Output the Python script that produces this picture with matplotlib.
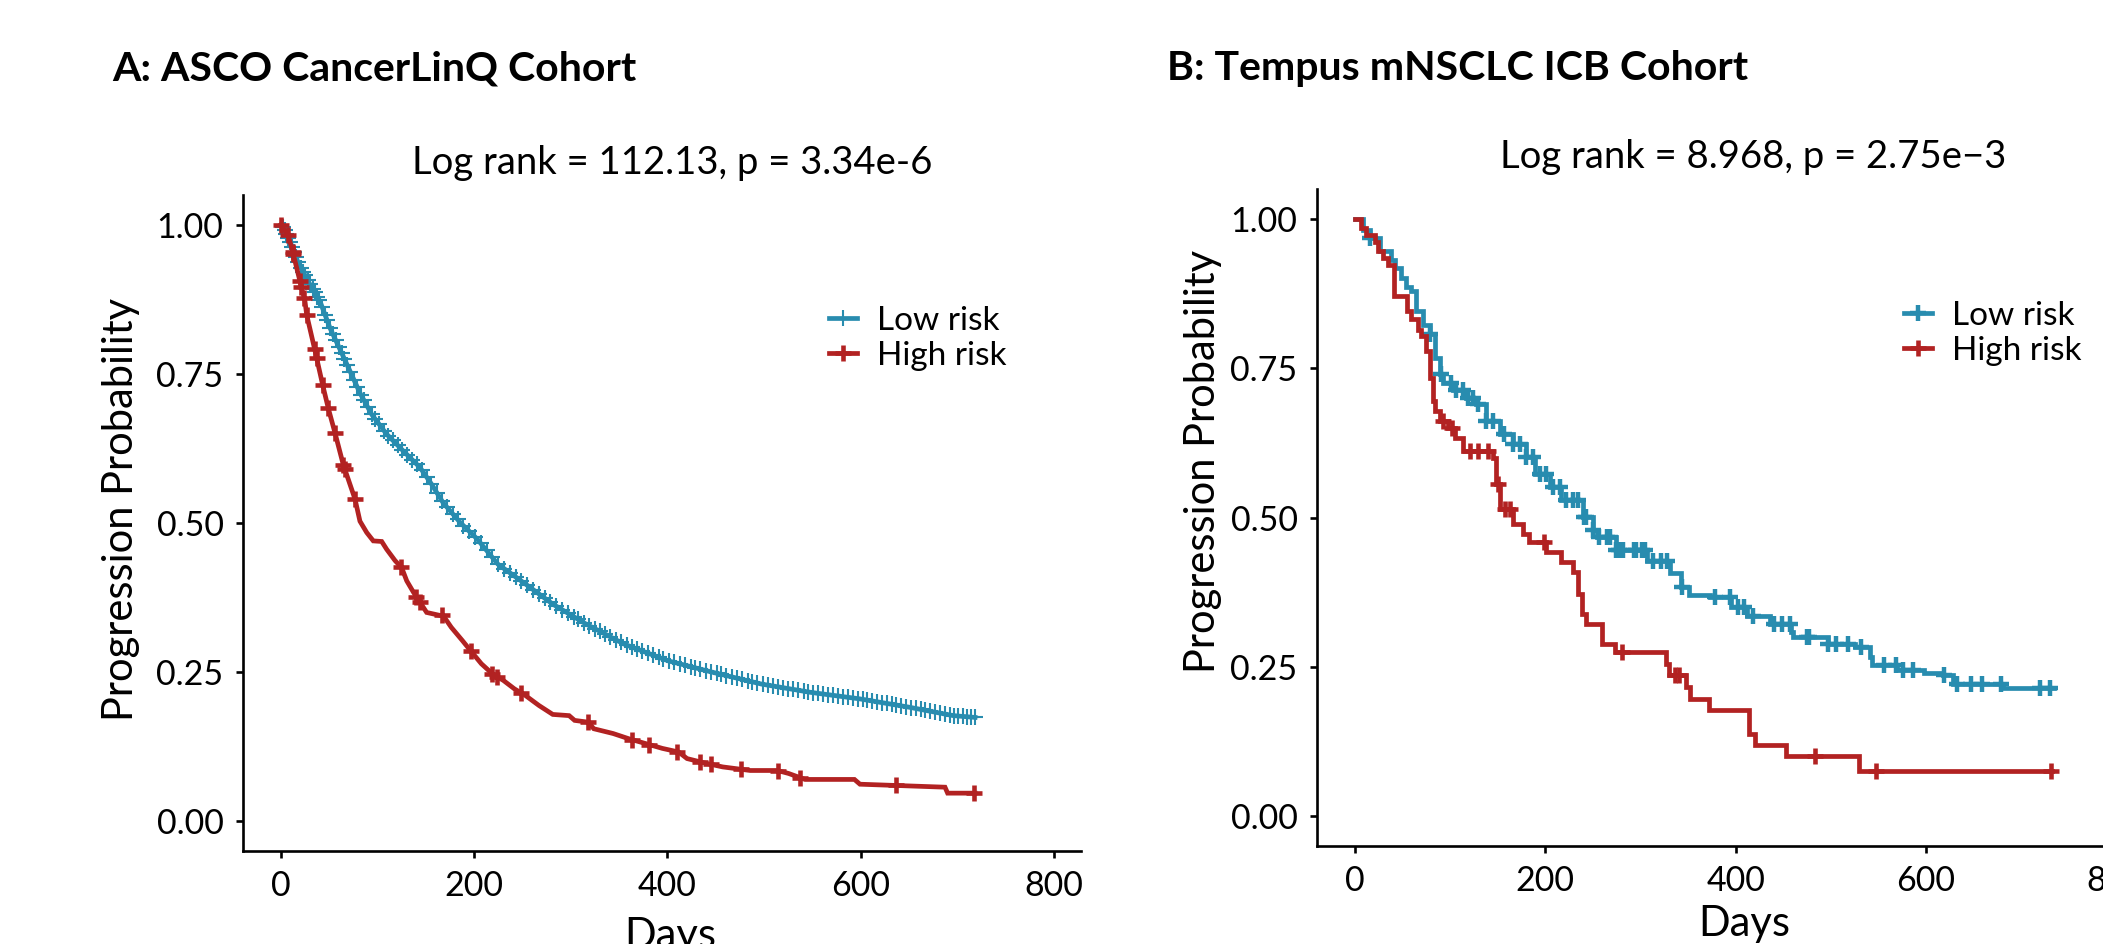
import numpy as np
import matplotlib.pyplot as plt

plt.rcParams['font.family'] = ['Lato', 'DejaVu Sans']

BLUE = '#288caf'
RED = '#b22222'

# ---- Panel A: ASCO CancerLinQ cohort ----
a_low_days = [0, 2.8, 9.7, 18.2, 30.3, 40.6, 51, 61.4, 71.6, 82, 94.2, 109.6, 126.7, 144.2, 156.1,
              168, 185.6, 202.8, 224.7, 253, 281.5, 315.4, 355.2, 400.6, 446.1, 497.2, 548.3,
              599.5, 650.6, 695.8, 718.4]
a_low_surv = [1.0, 0.995, 0.972, 0.936, 0.900, 0.872, 0.827, 0.791, 0.755, 0.718, 0.682, 0.649,
              0.621, 0.593, 0.565, 0.534, 0.501, 0.474, 0.431, 0.398, 0.364, 0.331, 0.297, 0.269,
              0.250, 0.230, 0.216, 0.205, 0.191, 0.177, 0.174]
a_low_censor = [2, 4, 6, 8, 10, 12, 14, 16, 18, 21, 23, 25, 28, 30, 33, 35, 38, 40, 43, 46, 48,
                51, 54, 57, 60, 63, 66, 69, 72, 76, 79, 83, 86, 90, 94, 98, 102, 107, 111, 116,
                121, 126, 131, 136, 141, 146, 151, 156, 162, 167, 172, 178, 183, 189, 195, 201,
                207, 213, 219, 225, 231, 237, 243, 249, 255, 261, 267, 273, 279, 285, 291, 297,
                303, 308, 314, 319, 325, 330, 336, 341, 347, 352, 358, 363, 369, 374, 380, 385,
                391, 396, 402, 407, 413, 418, 424, 429, 434, 440, 445, 451, 456, 461, 467, 472,
                477, 483, 488, 493, 499, 504, 509, 514, 520, 525, 530, 535, 541, 546, 551, 556,
                561, 566, 571, 577, 582, 587, 592, 597, 602, 607, 612, 617, 622, 627, 632, 637,
                642, 647, 652, 657, 662, 667, 672, 677, 682, 687, 692, 697, 701, 706, 710, 714, 718]

a_high_days = [0, 7.7, 12.4, 20, 25.1, 26.9, 35.2, 43.5, 49.3, 56.2, 64.7, 76.9, 82, 89, 95.8,
               104.5, 109.6, 118.3, 125.2, 130.4, 137.3, 144.2, 151, 164.8, 168, 176.5, 187.9,
               196.4, 207.6, 219.1, 230.4, 241.7, 253, 267.2, 281.5, 298.4, 304.1, 318.3, 323.9,
               343.9, 360.6, 377.9, 395, 411.7, 420.4, 440.2, 457.3, 485.8, 513.9, 525.5, 542.5,
               593.6, 599.3, 687.3, 690, 718.4]
a_high_surv = [1.0, 0.983, 0.955, 0.905, 0.872, 0.849, 0.791, 0.731, 0.692, 0.651, 0.598, 0.540,
               0.503, 0.484, 0.470, 0.469, 0.456, 0.437, 0.425, 0.403, 0.384, 0.367, 0.350, 0.345,
               0.345, 0.325, 0.303, 0.286, 0.264, 0.247, 0.236, 0.222, 0.211, 0.194, 0.179, 0.177,
               0.169, 0.166, 0.155, 0.147, 0.138, 0.130, 0.122, 0.116, 0.105, 0.097, 0.091, 0.085,
               0.085, 0.080, 0.070, 0.070, 0.062, 0.057, 0.047, 0.047]
a_high_censor = [0, 7.7, 12.4, 13.1, 20, 21.5, 24.4, 26.9, 35.2, 37.2, 43.5, 49.3, 56.2, 64.7,
                 66.2, 76.9, 124.7, 140.4, 144.2, 166.5, 196.4, 219.1, 224, 248.2, 318.3, 363.6,
                 381, 409.8, 433.4, 445.1, 476.6, 515, 537.5, 636.8, 717.4]

# ---- Panel B: Tempus mNSCLC ICB cohort ----
b_low_days = [0, 8.4, 15.4, 25.9, 38.1, 41.6, 48.6, 53.8, 59.1, 64.4, 71.4, 78.4, 83.7, 89, 92.4,
              102.9, 117, 127.5, 138, 152, 166, 180, 188.8, 204.6, 216.8, 239.6, 250.1, 253.9,
              274.2, 306.6, 330.8, 342.9, 351, 373.3, 395.5, 411.7, 436, 458.2, 460.3, 496.7,
              525, 541.2, 543.2, 569.5, 597.8, 618, 628.1, 680.7, 735]
b_low_surv = [1.0, 0.982, 0.969, 0.946, 0.932, 0.918, 0.901, 0.887, 0.879, 0.846, 0.823, 0.807,
              0.768, 0.740, 0.726, 0.714, 0.701, 0.690, 0.662, 0.640, 0.623, 0.601, 0.573, 0.551,
              0.529, 0.501, 0.479, 0.467, 0.445, 0.428, 0.408, 0.384, 0.370, 0.367, 0.350, 0.336,
              0.322, 0.308, 0.300, 0.289, 0.283, 0.267, 0.253, 0.244, 0.239, 0.236, 0.222, 0.214,
              0.214]
b_low_censor = [15.4, 78.4, 90.7, 101.2, 106.5, 113.5, 118.7, 124, 129.2, 138, 145, 157, 166, 173,
                180, 187.1, 194.1, 201.1, 208.1, 215.1, 222.1, 229.1, 234.4, 240.9, 243.1, 250.1,
                256.9, 265, 267.7, 274.7, 277.1, 281.7, 293.2, 295.7, 301.3, 304.5, 313.4, 321.5,
                327.6, 343.8, 378.1, 394.3, 402.4, 408.4, 418.5, 440.8, 448.9, 457, 475.2, 477.2,
                497.4, 505.5, 517.6, 531.8, 556, 568.2, 576.3, 586.4, 618.7, 632.9, 647, 659.2,
                679.4, 719.8, 729.9]

b_high_days = [0, 6.6, 11.8, 20.6, 24.1, 29.4, 34.6, 40.6, 54.6, 59.1, 66.1, 69.6, 74.2, 78.4,
               81.9, 83.7, 88.9, 97.7, 104.7, 113.4, 118.7, 145, 148.5, 152, 166.1, 176.2, 182.3,
               200.5, 216.6, 228.8, 234.8, 238.9, 242.9, 259.1, 273.2, 326.6, 329.8, 348, 352.1,
               372.3, 413.9, 420.8, 453.1, 529.9, 732]
b_high_surv = [1.0, 0.986, 0.974, 0.962, 0.947, 0.935, 0.923, 0.871, 0.846, 0.832, 0.815, 0.804,
               0.779, 0.734, 0.695, 0.679, 0.662, 0.651, 0.634, 0.611, 0.611, 0.600, 0.556, 0.514,
               0.489, 0.473, 0.459, 0.442, 0.425, 0.409, 0.372, 0.339, 0.322, 0.289, 0.275, 0.255,
               0.236, 0.216, 0.196, 0.177, 0.138, 0.119, 0.100, 0.075, 0.075]
b_high_censor = [92.4, 101.5, 120.7, 129.4, 139.9, 150.4, 157.4, 162.7, 198.8, 280.8, 336, 340,
                 483.4, 548, 731]

panel_titles = ['A: ASCO CancerLinQ Cohort', 'B: Tempus mNSCLC ICB Cohort']
subtitles = ['Log rank = 112.13, p = 3.34e-6', 'Log rank = 8.968, p = 2.75e\u22123']
group_labels = ['Low risk', 'High risk']


def on_curve(days, xs, ys, steps):
    days = np.asarray(days, float)
    xs = np.asarray(xs, float)
    ys = np.asarray(ys, float)
    if steps:
        idx = np.clip(np.searchsorted(xs, days, side='right') - 1, 0, len(ys) - 1)
        return ys[idx]
    return np.interp(days, xs, ys)


W, H = 2103, 944
fig = plt.figure(figsize=(W / 100, H / 100), dpi=100)


def px(x, y):
    return x / W, 1 - y / H


panels = [
    dict(rect=[243 / W, 1 - 851 / H, 838 / W, 656 / H], steps=False, xlim=(-39, 828),
         low=(a_low_days, a_low_surv, a_low_censor), high=(a_high_days, a_high_surv, a_high_censor),
         low_ms=11, low_mew=1.5, title_xy=(112, 80), sub_xy=(672, 174),
         leg_xy=(829, 306), ylab_x=-0.123, ylab_y=0.52, xlab_y=-0.10),
    dict(rect=[1317 / W, 1 - 846 / H, 837.3 / W, 656.7 / H], steps=True, xlim=(-40, 840),
         low=(b_low_days, b_low_surv, b_low_censor), high=(b_high_days, b_high_surv, b_high_censor),
         low_ms=12, low_mew=3.2, title_xy=(1167, 80), sub_xy=(1753, 168),
         leg_xy=(1904, 301), ylab_x=-0.1135, ylab_y=0.586, xlab_y=-0.09),
]

for i, p in enumerate(panels):
    ax = fig.add_axes(p['rect'])
    ds = 'steps-post' if p['steps'] else 'default'
    handles = []
    for (xs, ys, cens), color, ms, mew, lab in [
            (p['low'], BLUE, p['low_ms'], p['low_mew'], group_labels[0]),
            (p['high'], RED, 12, 3.3, group_labels[1])]:
        ax.plot(xs, ys, color=color, lw=3.4, drawstyle=ds, solid_joinstyle='miter')
        ax.plot(cens, on_curve(cens, xs, ys, p['steps']), ls='none', marker='+',
                ms=ms, mew=mew, color=color)
        handles.append(plt.Line2D([], [], color=color, lw=3.4, marker='+', ms=ms, mew=mew))

    ax.set_xlim(*p['xlim'])
    ax.set_ylim(-0.05, 1.05)
    ax.set_xticks([0, 200, 400, 600, 800])
    ax.set_yticks([0, 0.25, 0.5, 0.75, 1.0])
    ax.set_yticklabels(['0.00', '0.25', '0.50', '0.75', '1.00'])
    for s in ['top', 'right']:
        ax.spines[s].set_visible(False)
    for s in ['left', 'bottom']:
        ax.spines[s].set_linewidth(1.9)
    ax.tick_params(width=1.9, length=5, labelsize=24.5, pad=9)
    ax.set_xlabel('Days', fontsize=30)
    ax.set_ylabel('Progression Probability', fontsize=30)
    ax.yaxis.set_label_coords(p['ylab_x'], p['ylab_y'])
    ax.xaxis.set_label_coords(0.51, p['xlab_y'])

    fig.text(*px(*p['title_xy']), panel_titles[i], fontsize=29.5, fontweight='bold',
             ha='left', va='baseline')
    fig.text(*px(*p['sub_xy']), subtitles[i], fontsize=27.5, ha='center', va='baseline')
    fig.legend(handles, group_labels, loc='upper left', bbox_to_anchor=px(*p['leg_xy']),
               frameon=False, fontsize=24, handlelength=0.85, handletextpad=0.6,
               labelspacing=0.15, borderpad=0, borderaxespad=0)

fig.savefig('out.png', dpi=100)
